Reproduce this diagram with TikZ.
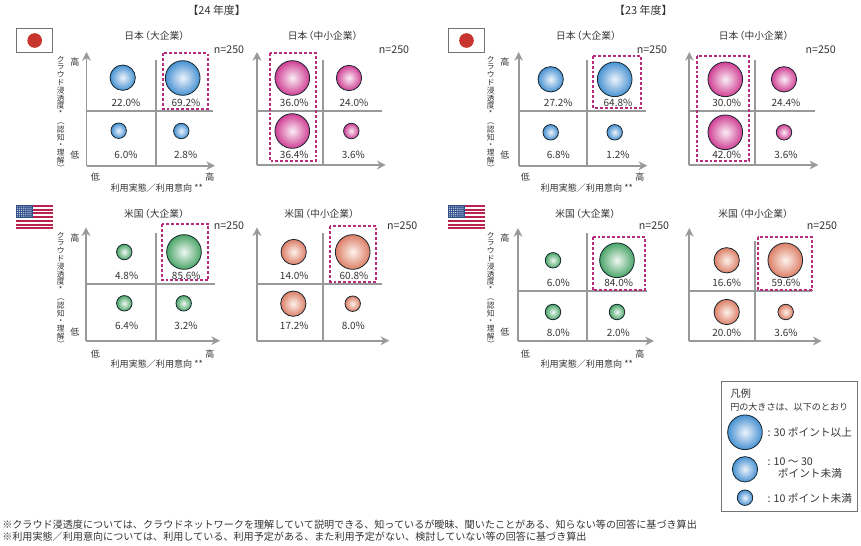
\documentclass[tikz,border=0pt]{standalone}
\usepackage{fontspec}
\usepackage{graphicx}
\setmainfont{Noto Sans CJK JP}
\usetikzlibrary{arrows.meta,positioning}
\definecolor{axisgray}{HTML}{999999}
\definecolor{boxpink}{HTML}{B92B7C}
\definecolor{inkgray}{HTML}{333333}
\definecolor{ballline}{HTML}{17262E}
\definecolor{flagred}{HTML}{C8342E}
\definecolor{stripered}{HTML}{B8224F}
\definecolor{cantonblue}{HTML}{2F4F8C}
\pgfdeclareradialshading{ballblue}{\pgfpoint{0bp}{0bp}}{color(0bp)=(rgb,255:red,238;green,243;blue,251); color(31bp)=(rgb,255:red,30;green,122;blue,200); color(50bp)=(rgb,255:red,30;green,122;blue,200)}
\pgfdeclareradialshading{ballpink}{\pgfpoint{0bp}{0bp}}{color(0bp)=(rgb,255:red,250;green,238;blue,245); color(31bp)=(rgb,255:red,197;green,20;blue,124); color(50bp)=(rgb,255:red,197;green,20;blue,124)}
\pgfdeclareradialshading{ballgreen}{\pgfpoint{0bp}{0bp}}{color(0bp)=(rgb,255:red,240;green,247;blue,242); color(31bp)=(rgb,255:red,34;green,145;blue,70); color(50bp)=(rgb,255:red,34;green,145;blue,70)}
\pgfdeclareradialshading{ballsalmon}{\pgfpoint{0bp}{0bp}}{color(0bp)=(rgb,255:red,253;green,242;blue,236); color(31bp)=(rgb,255:red,212;green,98;blue,70); color(50bp)=(rgb,255:red,212;green,98;blue,70)}
\tikzset{
  txt/.style={inner sep=0pt,text=inkgray,font=\fontsize{7.5}{9}\selectfont},
  head/.style={txt,font=\fontsize{7.3}{9}\selectfont},
  year/.style={txt,font=\fontsize{8.2}{9}\selectfont},
  count/.style={txt,font=\fontsize{8}{9}\selectfont},
  tiny/.style={txt,font=\fontsize{6.8}{8}\selectfont},
  lgnd/.style={txt,font=\fontsize{8}{9}\selectfont},
  note/.style={txt,font=\fontsize{7.57}{9}\selectfont},
  vtxt/.style={inner sep=0pt,text=inkgray,align=center,font=\fontsize{5.8}{5.85}\selectfont},
  ball/.style={circle,shade,shading=#1,draw=ballline,line width=.6pt,inner sep=0pt},
  big/.style={minimum size=26pt},
  mid/.style={minimum size=19pt},
  sml/.style={minimum size=11.6pt},
  hot/.style={draw=boxpink,line width=1.6pt,dash pattern=on 2.2pt off 1.5pt},
  axis/.style={draw=axisgray,line width=1.35pt},
  axisarrow/.style={axis,-{Stealth[length=6.5pt,width=6.5pt,inset=2pt]}}
}
% name, left x, arrow top, bottom y, arrow end x, mid y, mid line end, mid x, mid line top
\newcommand{\quadaxes}[9]{
\coordinate (#1o) at (#2,#4);
\coordinate (#1t) at (#2,#3);
\coordinate (#1e) at (#5,#4);
\coordinate (#1l) at (#2,#6);
\coordinate (#1r) at (#7,#6);
\coordinate (#1u) at (#8,#9);
\coordinate (#1b) at (#8,#4);
\draw[axis] (#1l) -- (#1r);
\draw[axis] (#1u) -- (#1b);
\draw[axisarrow] (#1o) -- (#1t);
\draw[axisarrow] (#1o) -- (#1e);
}
\newcommand{\jpflag}[2]{
\node[draw=black!55,line width=.5pt,fill=white,minimum width=27pt,minimum height=18.3pt,inner sep=0pt] (#1) at (#2,40.5) {};
\fill[flagred] (#1.center) circle (5.5pt);
}
\newcommand{\usflag}[2]{
\foreach \i in {0,2,...,12}
  \fill[stripered] (#2,205+1.87*\i) rectangle (#2+36.6,205+1.87*\i+1.87);
\fill[cantonblue] (#2,205) rectangle (#2+17,218);
\foreach \i in {1,...,8}
  \foreach \j in {1,...,6}
    \fill[white,opacity=.8] (#2+1.9*\i-.6,205+1.85*\j) circle (.6);
\coordinate (#1) at (#2,205);
}
\newcommand{\vparen}[1]{\raisebox{.85em}[0pt][0pt]{\rotatebox{-90}{#1}}}
\newcommand{\ylabelstack}{ク\\ラ\\ウ\\ド\\浸\\透\\度\\*\\\vparen{（}\\認\\知\\・\\理\\解\\\vparen{）}}
\newcommand{\lp}{\kern-.35em（}
\newcommand{\rp}{）\kern-.35em}
\begin{document}
\begin{tikzpicture}[x=0.75pt,y=-0.75pt]
\useasboundingbox (0,0) rectangle (861,546);
\node[year] (y24) at (216.7,10) {【24 年度】};
\node[year] (y23) at (643.3,10) {【23 年度】};
\jpflag{fa}{34.7}
\jpflag{fb}{466.5}
\usflag{fc}{16.3}
\usflag{fd}{448.3}
% 24 japan large
\quadaxes{a}{86.5}{52}{165.7}{215}{110.7}{213}{155.7}{60}
\node[head] (at) at (155,36) {日本\lp 大企業\rp};
\node[count] (an) at (229,50) {n=250};
\draw[hot] (162.7,53.3) rectangle (208,108.7);
\node[ball=ballblue,mid] (a1) at (122.7,77.7) {};
\node[ball=ballblue,big] (a2) at (182.7,78) {};
\node[ball=ballblue,sml] (a3) at (118.7,130.7) {};
\node[ball=ballblue,sml] (a4) at (181.3,131) {};
\node[txt] (al1) at (126,103) {22.0\%};
\node[txt] (al2) at (186,103) {69.2\%};
\node[txt] (al3) at (126,155) {6.0\%};
\node[txt] (al4) at (185.7,155) {2.8\%};
\node[vtxt] (av) at (60.7,113.5) {\ylabelstack};
\node[tiny] (ah) at (75,61.7) {高};
\node[tiny] (al) at (75,155) {低};
\node[tiny] (ax) at (95.3,176.7) {低};
\node[tiny] (ay) at (210,176.7) {高};
\node[tiny] (ac) at (156.7,187.7) {利用実態／利用意向 **};
% 24 japan small
\quadaxes{b}{257}{52}{165}{385.7}{110.7}{382}{322.7}{60}
\node[head] (bt) at (323.3,36) {日本\lp 中小企業\rp};
\node[count] (bn) at (394,50) {n=250};
\draw[hot] (270,53.3) rectangle (316,161.3);
\node[ball=ballpink,big] (b1) at (292.3,78) {};
\node[ball=ballpink,mid] (b2) at (349,78) {};
\node[ball=ballpink,big] (b3) at (292.3,131) {};
\node[ball=ballpink,sml] (b4) at (351.3,131) {};
\node[txt] (bl1) at (294.3,103) {36.0\%};
\node[txt] (bl2) at (354,103) {24.0\%};
\node[txt] (bl3) at (294.3,155) {36.4\%};
\node[txt] (bl4) at (353.3,155) {3.6\%};
% 24 usa large
\quadaxes{c}{86}{227.3}{340.7}{220}{284}{215}{155.7}{233.3}
\node[head] (ct) at (154.7,213.3) {米国\lp 大企業\rp};
\node[count] (cn) at (229,225.7) {n=250};
\draw[hot] (162.3,224.3) rectangle (208.3,280.3);
\node[ball=ballgreen,sml] (c1) at (124.3,252) {};
\node[ball=ballgreen,big] (c2) at (184,252) {};
\node[ball=ballgreen,sml] (c3) at (124.3,303.3) {};
\node[ball=ballgreen,sml] (c4) at (183.7,303.3) {};
\node[txt] (cl1) at (126.7,276) {4.8\%};
\node[txt] (cl2) at (186.3,276) {85.6\%};
\node[txt] (cl3) at (126.7,326.3) {6.4\%};
\node[txt] (cl4) at (186,326.3) {3.2\%};
\node[vtxt] (cv) at (60.7,289.5) {\ylabelstack};
\node[tiny] (ch) at (75,238.5) {高};
\node[tiny] (cw) at (75,332) {低};
\node[tiny] (cx) at (95.3,353.7) {低};
\node[tiny] (cy) at (210,353.7) {高};
\node[tiny] (cc) at (156.7,364) {利用実態／利用意向 **};
% 24 usa small
\quadaxes{d}{257}{227.3}{340.7}{389.3}{284}{382}{322.7}{233.3}
\node[head] (dt) at (320,213.3) {米国\lp 中小企業\rp};
\node[count] (dn) at (402.3,225.7) {n=250};
\draw[hot] (330.3,225.7) rectangle (376,281.7);
\node[ball=ballsalmon,mid] (d1) at (293.7,252) {};
\node[ball=ballsalmon,big] (d2) at (352.7,252) {};
\node[ball=ballsalmon,mid] (d3) at (293.3,303.7) {};
\node[ball=ballsalmon,sml] (d4) at (352.7,303.7) {};
\node[txt] (dl1) at (294.3,276) {14.0\%};
\node[txt] (dl2) at (354,276) {60.8\%};
\node[txt] (dl3) at (294.3,326.3) {17.2\%};
\node[txt] (dl4) at (353.3,326.3) {8.0\%};
% 23 japan large
\quadaxes{e}{518.7}{52}{165.7}{647.3}{110.7}{646}{587.3}{60}
\node[head] (et) at (586.7,36) {日本\lp 大企業\rp};
\node[count] (en) at (652,50) {n=250};
\draw[hot] (593.3,55.7) rectangle (640.7,108.3);
\node[ball=ballblue,mid] (e1) at (550.7,79.3) {};
\node[ball=ballblue,big] (e2) at (614.7,79.3) {};
\node[ball=ballblue,sml] (e3) at (550.7,132.3) {};
\node[ball=ballblue,sml] (e4) at (614.7,132.3) {};
\node[txt] (el1) at (558.3,103) {27.2\%};
\node[txt] (el2) at (618,103) {64.8\%};
\node[txt] (el3) at (558.3,155) {6.8\%};
\node[txt] (el4) at (618,155) {1.2\%};
\node[vtxt] (ev) at (490.7,113.5) {\ylabelstack};
\node[tiny] (eh) at (505,61.7) {高};
\node[tiny] (ew) at (505,155) {低};
\node[tiny] (ex) at (525.3,176.7) {低};
\node[tiny] (ey) at (640,176.7) {高};
\node[tiny] (ec) at (586.7,187.7) {利用実態／利用意向 **};
% 23 japan small
\quadaxes{f}{689.3}{52}{165}{818.3}{110.7}{815}{755}{60}
\node[head] (ft) at (754.3,36) {日本\lp 中小企業\rp};
\node[count] (fn) at (820.7,50) {n=250};
\draw[hot] (696.7,55.7) rectangle (749,161.3);
\node[ball=ballpink,big] (f1) at (725.3,79.3) {};
\node[ball=ballpink,mid] (f2) at (784,79.3) {};
\node[ball=ballpink,big] (f3) at (725.3,132.3) {};
\node[ball=ballpink,sml] (f4) at (784,132.3) {};
\node[txt] (fl1) at (726.7,103) {30.0\%};
\node[txt] (fl2) at (786,103) {24.4\%};
\node[txt] (fl3) at (726.7,155) {42.0\%};
\node[txt] (fl4) at (786,155) {3.6\%};
% 23 usa large
\quadaxes{g}{518}{228}{341}{654}{291.3}{647.3}{587.3}{233.3}
\node[head] (gt) at (586,213.3) {米国\lp 大企業\rp};
\node[count] (gn) at (654,225.7) {n=250};
\draw[hot] (592.7,237.3) rectangle (645,290);
\node[ball=ballgreen,sml] (g1) at (553,260.3) {};
\node[ball=ballgreen,big] (g2) at (617,260.3) {};
\node[ball=ballgreen,sml] (g3) at (553,312) {};
\node[ball=ballgreen,sml] (g4) at (617,312) {};
\node[txt] (gl1) at (558.3,283) {6.0\%};
\node[txt] (gl2) at (618.7,283) {84.0\%};
\node[txt] (gl3) at (558.3,333.3) {8.0\%};
\node[txt] (gl4) at (618.3,333.3) {2.0\%};
\node[vtxt] (gv) at (490.7,289.5) {\ylabelstack};
\node[tiny] (gh) at (505,238.5) {高};
\node[tiny] (gw) at (505,332) {低};
\node[tiny] (gx) at (525.3,353.7) {低};
\node[tiny] (gy) at (640,353.7) {高};
\node[tiny] (gc) at (586.7,364) {利用実態／利用意向 **};
% 23 usa small
\quadaxes{h}{689.3}{228}{341}{821.7}{291.3}{811.7}{755}{241}
\node[head] (ht) at (754,213.3) {米国\lp 中小企業\rp};
\node[count] (hn) at (822,225.7) {n=250};
\draw[hot] (758.3,237.3) rectangle (811.7,290);
\node[ball=ballsalmon,mid] (h1) at (726.7,260.3) {};
\node[ball=ballsalmon,big] (h2) at (785.3,260.3) {};
\node[ball=ballsalmon,mid] (h3) at (726.7,312) {};
\node[ball=ballsalmon,sml] (h4) at (785.7,312) {};
\node[txt] (hl1) at (726.7,283) {16.6\%};
\node[txt] (hl2) at (786,283) {59.6\%};
\node[txt] (hl3) at (726.7,333.3) {20.0\%};
\node[txt] (hl4) at (786,333.3) {3.6\%};
% legend
\draw[draw=black!55,line width=.6pt] (721,381) rectangle (857.3,511);
\node[txt,anchor=west,font=\fontsize{7.8}{9}\selectfont] (lt) at (730,393.3) {凡例};
\node[tiny,anchor=west] (ls) at (730,406.7) {円の大きさは、以下のとおり};
\node[ball=ballblue,big] (l1) at (745,432.3) {};
\node[ball=ballblue,mid] (l2) at (745,469.3) {};
\node[ball=ballblue,sml] (l3) at (745,497.7) {};
\node[lgnd,anchor=west] (lt1) at (767.3,432) {: 30 ポイント以上};
\node[lgnd,anchor=west] (lt2) at (767.3,461.7) {: 10 〜 30};
\node[lgnd,anchor=west] (lt3) at (777.7,473.3) {ポイント未満};
\node[lgnd,anchor=west] (lt4) at (767.3,498.3) {: 10 ポイント未満};
% notes
\node[note,anchor=west] (n1) at (2,524.5) {※クラウド浸透度については、クラウドネットワークを理解していて説明できる、知っているが曖昧、聞いたことがある、知らない等の回答に基づき算出};
\node[note,anchor=west] (n2) at (2,537) {※利用実態／利用意向については、利用している、利用予定がある、また利用予定がない、検討していない等の回答に基づき算出};
\end{tikzpicture}
\end{document}
